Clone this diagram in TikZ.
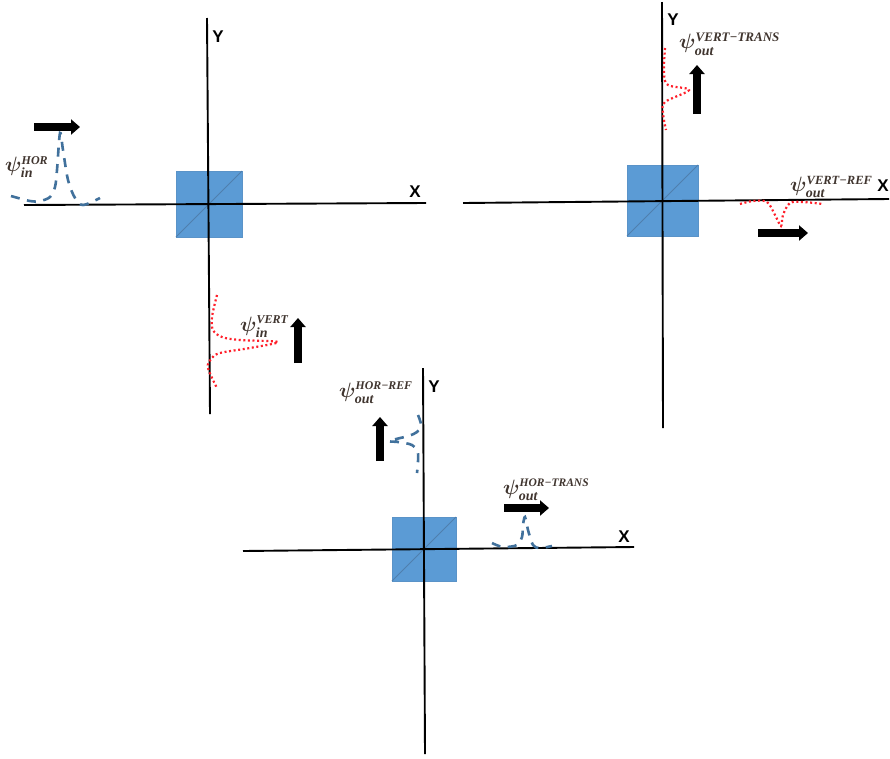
\documentclass[tikz,border=0pt]{standalone}
\usepackage{fontspec}
\setsansfont{Liberation Sans}
\newfontfamily\scriptface{Liberation Serif}
\usetikzlibrary{arrows.meta}
\definecolor{cube}{HTML}{5B9BD5}
\definecolor{cubeedge}{HTML}{5A93C8}
\definecolor{diag}{HTML}{4F7FAE}
\definecolor{wave}{HTML}{41719C}
\definecolor{pulse}{HTML}{FF1F2A}
\definecolor{psitext}{HTML}{40352F}
\newcommand{\psilab}[3][12]{{\boldmath$\psi^{\hbox{\scriptface\itshape\bfseries\fontsize{#1}{12}\selectfont #2}}_{\hbox{\scriptface\itshape\bfseries\fontsize{14}{14}\selectfont #3}}$}}
\tikzset{
  axisline/.style={line width=1.9pt,black},
  splitter/.style={fill=cube,draw=cubeedge,line width=0.5pt},
  diagline/.style={draw=diag,line width=1pt},
  bluewave/.style={draw=wave,line width=2.6pt,dash pattern=on 9pt off 7.5pt,smooth,tension=0.55},
  redwave/.style={draw=pulse,line width=2.2pt,dash pattern=on 2pt off 2.6pt,smooth,tension=0.55},
  blockarrow/.style={line width=8pt,black,-{Triangle[length=9pt,width=15pt]}},
  axislabel/.style={font=\sffamily\bfseries\fontsize{17}{20}\selectfont},
  psilabel/.style={text=psitext,inner sep=0pt,anchor=west,font=\fontsize{20}{22}\selectfont}
}
\begin{document}
\begin{tikzpicture}[x=1pt,y=-1pt]
\useasboundingbox (0,0) rectangle (890,758);
\fill[white] (0,0) rectangle (890,758);
% panel 1
\fill[splitter] (176,171) rectangle (242,237);
\draw[diagline] (176,237) -- (242,171);
\draw[axisline] (207,18) -- (210,414);
\draw[axisline] (24,205) -- (426,203);
\node[axislabel] (y1) at (218,37) {Y};
\node[axislabel] (x1) at (415,192) {X};
\draw[bluewave] plot coordinates {(11,196) (30,201) (40,201) (50,197) (55,187) (57,170) (60,133) (63,150) (68,180) (75,198) (83,205) (100,198)};
\draw[redwave] plot coordinates {(217,295) (212,317) (213,330) (222,337) (240,340) (278,342) (250,348) (220,353) (211,359) (208,368) (217,388)};
\draw[blockarrow] (34,127) -- (80,127);
\draw[blockarrow] (298,363) -- (298,318);
\node[psilabel] (l1) at (5,167) {\psilab{HOR}{in}};
\node[psilabel] (l2) at (240,327) {\psilab{VERT}{in}};
% panel 2
\fill[splitter] (627,165) rectangle (698,236);
\draw[diagline] (627,236) -- (698,165);
\draw[axisline] (662,2) -- (663,428);
\draw[axisline] (463,203) -- (889,199);
\node[axislabel] (y2) at (673,20) {Y};
\node[axislabel] (x2) at (883,186) {X};
\draw[redwave] plot coordinates {(665,48) (664,73) (668,85) (689,90) (665,102) (663,113) (666,130)};
\draw[redwave] plot coordinates {(740,204) (753,201) (767,202) (775,215) (781,226) (783,215) (790,203) (803,202) (823,204)};
\draw[blockarrow] (697,114) -- (697,65);
\draw[blockarrow] (758,233) -- (808,233);
\node[psilabel] (l3) at (679,44) {\psilab[13]{VERT−TRANS}{out}};
\node[psilabel] (l4) at (790,187) {\psilab[12.5]{VERT−REF}{out}};
% panel 3
\fill[splitter] (392,517) rectangle (456,581);
\draw[diagline] (392,581) -- (456,517);
\draw[axisline] (423,368) -- (425,754);
\draw[axisline] (243,551) -- (634,547);
\node[axislabel] (y3) at (434,387) {Y};
\node[axislabel] (x3) at (624,537) {X};
\draw[bluewave] plot coordinates {(418,415) (421,425) (417,432) (408,436) (389,441) (398,442) (412,445) (418,453) (417,473)};
\draw[bluewave] plot coordinates {(492,543) (503,547) (517,545) (522,537) (523,525) (525,517) (528,530) (533,545) (540,548) (552,546)};
\draw[blockarrow] (380,461) -- (380,417);
\draw[blockarrow] (504,508) -- (549,508);
\node[psilabel] (l5) at (339,393) {\psilab[11.8]{HOR−REF}{out}};
\node[psilabel] (l6) at (503,490) {\psilab[11.5]{HOR−TRANS}{out}};
\end{tikzpicture}
\end{document}
